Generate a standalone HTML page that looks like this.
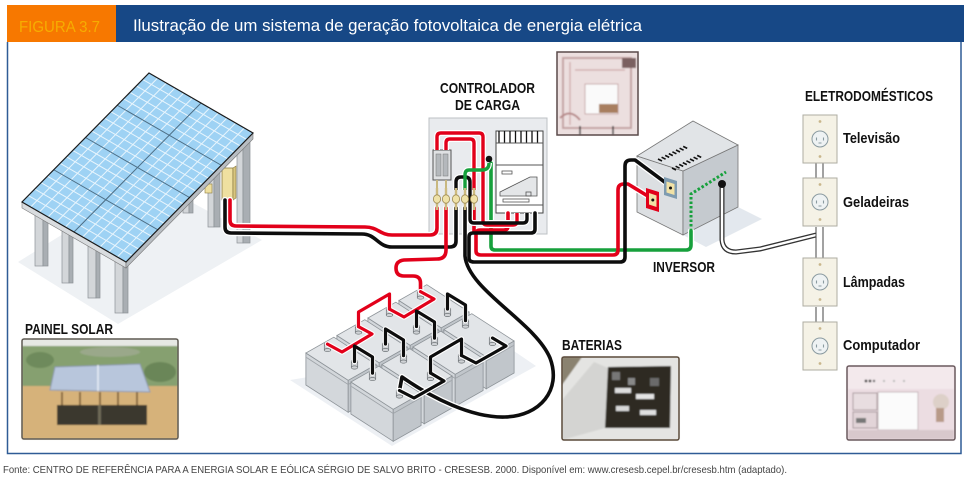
<!DOCTYPE html>
<html><head><meta charset="utf-8">
<style>html,body{margin:0;padding:0;background:#fff}svg{display:block}</style>
</head>
<body>
<svg width="968" height="485" viewBox="0 0 968 485" xmlns="http://www.w3.org/2000/svg" xmlns:xlink="http://www.w3.org/1999/xlink" font-family="'Liberation Sans', Arial, sans-serif">
<defs>
  <filter id="bl" x="-5%" y="-5%" width="110%" height="110%"><feGaussianBlur stdDeviation="0.7"/></filter>
  <g id="term">
    <rect x="-3.2" y="-6" width="6.4" height="6" fill="#cfd2d5" stroke="#6f7478" stroke-width="0.7"/>
    <ellipse cx="0" cy="0" rx="3.2" ry="1.6" fill="#cfd2d5" stroke="#6f7478" stroke-width="0.7"/>
    <ellipse cx="0" cy="-6" rx="3.2" ry="1.7" fill="#f4f4f4" stroke="#6f7478" stroke-width="0.7"/>
    <circle cx="0" cy="-6" r="0.9" fill="#c8a24a"/>
  </g>
  <g id="bat">
    <polygon points="398.9,300.5 441.2,327.8 441.2,359.8 398.9,332.5" fill="#d3d7db" stroke="#8d9398" stroke-width="0.8"/>
    <polygon points="469.1,312 441.2,327.8 441.2,359.8 469.1,344" fill="#c1c6cb" stroke="#8d9398" stroke-width="0.8"/>
    <polyline points="399.5,305 441.2,332" fill="none" stroke="#9ea3a8" stroke-width="0.8"/>
    <polyline points="441.2,332 468.5,316.5" fill="none" stroke="#9ea3a8" stroke-width="0.8"/>
    <polygon points="426.8,284.7 469.1,312 441.2,327.8 398.9,300.5" fill="#e2e5e8" stroke="#8d9398" stroke-width="0.8"/>
    <use xlink:href="#term" x="420.5" y="297.6"/>
    <use xlink:href="#term" x="447.5" y="315"/>
  </g>
  <g id="outlet">
    <rect x="0" y="0" width="34" height="48" fill="#f5f2e6" stroke="#aeaca2" stroke-width="1"/>
    <circle cx="17" cy="24" r="8" fill="#eef2f3" stroke="#8a9aa0" stroke-width="1"/>
    <path d="M13.5,22.5v3 M20.5,22.5v3 M15.5,28h3" stroke="#8a9aa0" stroke-width="1.1"/>
    <circle cx="17" cy="6.5" r="1.4" fill="#c9b68c"/>
    <circle cx="17" cy="41.5" r="1.4" fill="#c9b68c"/>
  </g>
</defs>
<rect width="968" height="485" fill="#fff"/>

<!-- header -->
<rect x="7" y="5" width="109" height="37" fill="#f77800"/>
<rect x="116" y="5" width="848" height="37" fill="#174886"/>
<text x="19" y="32" font-size="16" fill="#f6ad00" textLength="81" lengthAdjust="spacingAndGlyphs">FIGURA 3.7</text>
<text x="133" y="31" font-size="17" fill="#ffffff" textLength="509" lengthAdjust="spacingAndGlyphs">Ilustração de um sistema de geração fotovoltaica de energia elétrica</text>
<path d="M7.5,42V453.5H961V42" fill="none" stroke="#2f5c96" stroke-width="1.5"/>
<text x="3" y="473" font-size="10.5" fill="#444" textLength="784" lengthAdjust="spacingAndGlyphs">Fonte: CENTRO DE REFERÊNCIA PARA A ENERGIA SOLAR E EÓLICA SÉRGIO DE SALVO BRITO - CRESESB. 2000. Disponível em: www.cresesb.cepel.br/cresesb.htm (adaptado).</text>

<!-- solar panel structure -->
<polygon points="18,262 118,324 262,240 150,180" fill="#eef1f4"/>
<g stroke="#8c9196" stroke-width="0.7">
  <rect x="183" y="195" width="6" height="18" fill="#d3d6d9"/><rect x="189" y="195" width="4" height="18" fill="#a9aeb3"/>
  <rect x="208" y="165" width="6" height="62" fill="#d3d6d9"/><rect x="214" y="165" width="6" height="62" fill="#a9aeb3"/>
  <rect x="237" y="138" width="6" height="105" fill="#d3d6d9"/><rect x="243" y="138" width="7" height="105" fill="#a9aeb3"/>
  <rect x="35" y="205" width="8" height="61" fill="#d3d6d9"/><rect x="43" y="205" width="5" height="61" fill="#a9aeb3"/>
  <rect x="62" y="220" width="7" height="63" fill="#d3d6d9"/><rect x="69" y="220" width="4" height="63" fill="#a9aeb3"/>
  <rect x="88" y="235" width="8" height="63" fill="#d3d6d9"/><rect x="96" y="235" width="4" height="63" fill="#a9aeb3"/>
  <rect x="115" y="250" width="8" height="63" fill="#d3d6d9"/><rect x="123" y="250" width="5" height="63" fill="#a9aeb3"/>
</g>
<rect x="205" y="184" width="7" height="9" fill="#efe0a0" stroke="#8a7a40" stroke-width="0.6"/>
<rect x="222" y="168" width="11" height="32" fill="#efe0a0" stroke="#8a7a40" stroke-width="0.8"/>
<polygon points="233,168 236,166 236,198 233,200" fill="#d8c57e" stroke="#8a7a40" stroke-width="0.6"/>
<!-- panel edge -->
<polygon points="22,202 126,262 126,268 22,208" fill="#d9dcdf" stroke="#777" stroke-width="0.6"/>
<polygon points="126,262 253,133 253,139 126,268" fill="#b8bdc2" stroke="#777" stroke-width="0.6"/>
<!-- panel surface -->
<g transform="matrix(8.6667,5,-6.35,6.45,149,73)">
  <rect x="0" y="0" width="12" height="20" fill="#9ed2f4"/>
  <path vector-effect="non-scaling-stroke" stroke="#e8f5fd" stroke-width="1" fill="none" d="M1,0V20M2,0V20M3,0V20M4,0V20M5,0V20M7,0V20M8,0V20M9,0V20M10,0V20M11,0V20M0,1H12M0,2H12M0,3H12M0,4H12M0,6H12M0,7H12M0,8H12M0,9H12M0,11H12M0,12H12M0,13H12M0,14H12M0,16H12M0,17H12M0,18H12M0,19H12"/>
  <path vector-effect="non-scaling-stroke" stroke="#4d6e85" stroke-width="1" fill="none" d="M6,0V20M0,5H12M0,10H12M0,15H12"/>
  <rect x="0" y="0" width="12" height="20" fill="none" stroke="#1a1a1a" stroke-width="1.2" vector-effect="non-scaling-stroke"/>
</g>

<!-- shadows -->
<polygon points="290,380 392,446 536,366 505,345" fill="#edf0f4"/>
<polygon points="683,235 738,207 762,219 706,247" fill="#e3e8ee"/>

<!-- controller box -->
<rect x="429" y="118" width="118" height="116" fill="#e9ebee" stroke="#bdc0c4" stroke-width="1"/>
<rect x="496" y="131" width="47" height="82" fill="#fff" stroke="#444" stroke-width="1"/>
<path d="M499,131V143M504.5,131V143M510,131V143M515.5,131V143M521,131V143M526.5,131V143M532,131V143M537.5,131V143" stroke="#111" stroke-width="1.3"/>
<path d="M496,143H543M496,165H543M496,205H543" stroke="#555" stroke-width="0.9"/>
<rect x="502" y="171" width="10" height="3" fill="none" stroke="#555" stroke-width="0.8"/>
<path d="M500,192 L512,186 L530,177 L537,177 L537,196 L500,196 Z" fill="#e4e6e8" stroke="#555" stroke-width="0.8"/>
<rect x="503" y="199" width="26" height="3" fill="none" stroke="#555" stroke-width="0.8"/>
<rect x="526" y="192" width="5" height="4" fill="none" stroke="#555" stroke-width="0.8"/>
<rect x="433" y="150" width="18" height="30" fill="#dfe1e3" stroke="#555" stroke-width="1"/>
<rect x="436" y="154" width="5" height="22" fill="#b4b8bc" stroke="#777" stroke-width="0.5"/>
<rect x="443" y="154" width="5" height="22" fill="#b4b8bc" stroke="#777" stroke-width="0.5"/>
<path d="M437,180V190M446,180V190" stroke="#c8b880" stroke-width="2"/>

<!-- inverter -->
<polygon points="637,156 683,171 683,235 637,212" fill="#dcdfe2" stroke="#777" stroke-width="0.8"/>
<polygon points="683,171 738,145 738,207 683,235" fill="#c5cacf" stroke="#777" stroke-width="0.8"/>
<polygon points="637,156 693,121 738,145 683,171" fill="#e1e4e7" stroke="#777" stroke-width="0.8"/>
<g stroke="#111" stroke-width="1.6">
  <path d="M658,159l4,2M661.6,157.2l4,2M665.2,155.4l4,2M668.8,153.6l4,2M672.4,151.8l4,2M676,150l4,2M679.6,148.2l4,2M683.2,146.4l4,2"/>
  <path d="M672,168l4,2M675.6,166.2l4,2M679.2,164.4l4,2M682.8,162.6l4,2M686.4,160.8l4,2M690,159l4,2M693.6,157.2l4,2M697.2,155.4l4,2"/>
</g>

<!-- batteries -->
<use xlink:href="#bat"/>
<use xlink:href="#bat" x="-31" y="17.5"/>
<use xlink:href="#bat" x="45" y="29"/>
<use xlink:href="#bat" x="-62" y="35"/>
<use xlink:href="#bat" x="14" y="46.5"/>
<use xlink:href="#bat" x="-93" y="52.5"/>
<use xlink:href="#bat" x="-17" y="64"/>
<use xlink:href="#bat" x="-48" y="81.5"/>

<!-- main cables: white outlines -->
<g fill="none" stroke="#fff" stroke-width="6.2" stroke-linejoin="round" stroke-linecap="round">
  <path d="M230,200V220Q230,226 236,226L365,227C378,227 380,235 392,235L430,235Q437,235 437,228V208"/>
  <path d="M225,200V227Q225,233 231,233L362,234C376,234 378,247 392,247L450,247Q456,247 456,241V208"/>
  <path d="M446,208V250Q446,259 437,259L404,260Q396,261 396,268Q396,276 404,276L413,276Q420.5,276 420.5,283V291"/>
  <path d="M491,163V246Q491,250 495,250H686Q691,250 691,245V231"/>
  <path d="M508,213V226Q508,230 504,230H480Q476,230 476,234V251Q476,255 481,255H613Q618,255 618,250V190Q618,184 624,184H628L651,198"/>
  <path d="M535,213V229Q535,233 531,233H473Q469,233 469,237V258Q469,262 474,262H620Q625,262 625,257V166Q625,160 631,160H635L670,186"/>
  <path d="M465,208V256C468,290 535,322 550,358C562,390 540,416 505,417C472,418 432,398 402,377L399.5,390.5"/>
</g>
<!-- colored cables -->
<g fill="none" stroke-width="3.6" stroke-linejoin="round" stroke-linecap="round">
  <path stroke="#e2001a" d="M230,200V220Q230,226 236,226L365,227C378,227 380,235 392,235L430,235Q437,235 437,228V208"/>
  <path stroke="#0d0d0d" d="M225,200V227Q225,233 231,233L362,234C376,234 378,247 392,247L450,247Q456,247 456,241V208"/>
  <path stroke="#e2001a" d="M446,208V250Q446,259 437,259L404,260Q396,261 396,268Q396,276 404,276L413,276Q420.5,276 420.5,283V291"/>
  <path stroke="#17a03c" d="M491,163V246Q491,250 495,250H686Q691,250 691,245V231"/>
  <path stroke="#e2001a" d="M508,213V226Q508,230 504,230H480Q476,230 476,234V251Q476,255 481,255H613Q618,255 618,250V190Q618,184 624,184H628L651,198"/>
  <path stroke="#e2001a" d="M474,208V232"/>
  <path stroke="#0d0d0d" d="M535,213V229Q535,233 531,233H473Q469,233 469,237V258Q469,262 474,262H620Q625,262 625,257V166Q625,160 631,160H635L670,186"/>
  <path stroke="#0d0d0d" d="M465,208V256C468,290 535,322 550,358C562,390 540,416 505,417C472,418 432,398 402,377L399.5,390.5"/>
</g>
<!-- controller internal loops -->
<g fill="none" stroke="#fff" stroke-width="6" stroke-linejoin="round">
  <path d="M437,150V137Q437,133 441,133H479Q483,133 483,137V221Q483,225 487,225H513Q517,225 517,221V213"/>
  <path d="M446,150V143Q446,139 450,139H470Q474,139 474,143V190"/>
  <path d="M456,190V182Q456,177 461,177H465Q470,177 470,182V219Q470,223 474,223H523Q527,223 527,219V213"/>
  <path d="M489,163Q489,170 482,170H469Q465,170 465,175V190"/>
</g>
<g fill="none" stroke-width="3.4" stroke-linejoin="round">
  <path stroke="#e2001a" d="M437,150V137Q437,133 441,133H479Q483,133 483,137V221Q483,225 487,225H513Q517,225 517,221V213"/>
  <path stroke="#e2001a" d="M446,150V143Q446,139 450,139H470Q474,139 474,143V190"/>
  <path stroke="#0d0d0d" d="M456,190V182Q456,177 461,177H465Q470,177 470,182V219Q470,223 474,223H523Q527,223 527,219V213"/>
  <path stroke="#17a03c" d="M489,163Q489,170 482,170H469Q465,170 465,175V190"/>
</g>
<circle cx="489" cy="159" r="3.3" fill="#111"/>
<!-- fuses -->
<g>
  <path d="M437,188V210M446,188V210M456,188V210M465,188V210M474,188V210" stroke="#cdbb80" stroke-width="2.4"/>
  <g fill="#efe2a8" stroke="#9c8850" stroke-width="0.8">
    <ellipse cx="437" cy="199" rx="3.6" ry="4.2"/><ellipse cx="446" cy="199" rx="3.6" ry="4.2"/><ellipse cx="456" cy="199" rx="3.6" ry="4.2"/><ellipse cx="465" cy="199" rx="3.6" ry="4.2"/><ellipse cx="474" cy="199" rx="3.6" ry="4.2"/>
  </g>
</g>

<!-- inverter terminals, green dotted, cord -->
<polygon points="646,188 659,192 659,212 646,208" fill="#e2001a"/>
<polygon points="649,193 656.5,195.5 656.5,207 649,204.5" fill="#f1e2a6"/>
<circle cx="652.8" cy="200" r="1.5" fill="#111"/>
<polygon points="664,177 677,181 677,199 664,195" fill="#7e9bb0"/>
<polygon points="666.5,181.5 674.5,184 674.5,195 666.5,192.5" fill="#f1e2a6"/>
<circle cx="670.5" cy="188" r="1.5" fill="#111"/>
<path d="M691,231V194L726,172" fill="none" stroke="#17a03c" stroke-width="3" stroke-dasharray="2.5,2"/>
<path d="M722,184V240Q723,252 736,252L760,249L816,235" fill="none" stroke="#333" stroke-width="5"/>
<path d="M722,184V240Q723,252 736,252L760,249L816,235" fill="none" stroke="#fff" stroke-width="2.4"/>
<circle cx="722" cy="184" r="4" fill="#111"/>

<!-- battery wires -->
<g fill="none" stroke="#fff" stroke-width="5.4" stroke-linejoin="round" stroke-linecap="round">
  <path d="M420.5,291.6L434,299L404,317L389.5,309.1"/>
  <path d="M389.5,309.1V294L358.5,312V326.6"/>
  <path d="M358.5,326.6L372,334L342,352L327.5,344.1"/>
  <path d="M447.5,309V294L465.5,305V320.6"/>
  <path d="M416.5,326.5V311L434.5,322V338.1"/>
  <path d="M385.5,344V329L403.5,340V355.6"/>
  <path d="M354.5,361.5V346L372.5,357V373.1"/>
  <path d="M492.5,338L506,346L476,363L461.5,355.5"/>
  <path d="M430.5,373V357L461.5,339V355.5"/>
  <path d="M430.5,373L444,381L414,398L399.5,390.5"/>
</g>
<g fill="none" stroke-width="3.2" stroke-linejoin="round" stroke-linecap="round">
  <path stroke="#e2001a" d="M420.5,291.6L434,299L404,317L389.5,309.1"/>
  <path stroke="#e2001a" d="M389.5,309.1V294L358.5,312V326.6"/>
  <path stroke="#e2001a" d="M358.5,326.6L372,334L342,352L327.5,344.1"/>
  <path stroke="#0d0d0d" d="M447.5,309V294L465.5,305V320.6"/>
  <path stroke="#0d0d0d" d="M416.5,326.5V311L434.5,322V338.1"/>
  <path stroke="#0d0d0d" d="M385.5,344V329L403.5,340V355.6"/>
  <path stroke="#0d0d0d" d="M354.5,361.5V346L372.5,357V373.1"/>
  <path stroke="#0d0d0d" d="M492.5,338L506,346L476,363L461.5,355.5"/>
  <path stroke="#0d0d0d" d="M430.5,373V357L461.5,339V355.5"/>
  <path stroke="#0d0d0d" d="M430.5,373L444,381L414,398L399.5,390.5"/>
</g>

<!-- outlets -->
<path d="M816,163V178M823,163V178M816,227V258M823,227V258M816,307V322M823,307V322" stroke="#444" stroke-width="1"/>
<use xlink:href="#outlet" x="803" y="115"/>
<use xlink:href="#outlet" x="803" y="178"/>
<use xlink:href="#outlet" x="803" y="258"/>
<use xlink:href="#outlet" x="803" y="322"/>

<!-- photos -->
<!-- controller photo -->
<g filter="url(#bl)">
  <rect x="557" y="52" width="81" height="83" fill="#ecdfdf"/>
  <rect x="563" y="58" width="68" height="70" fill="none" stroke="#c4a3a3" stroke-width="2"/>
  <path d="M570,62V125M575,70H625" stroke="#d2b2b2" stroke-width="1.5"/>
  <rect x="585" y="84" width="33" height="30" fill="#fafafa" stroke="#c9aaaa" stroke-width="1"/>
  <rect x="599" y="104" width="19" height="9" fill="#a87e5e"/>
  <path d="M560,118Q570,108 580,120" fill="none" stroke="#b78a8a" stroke-width="2"/>
  <path d="M622,58H636V68H622Z" fill="#7a6060"/>
  <path d="M580,126V135M613,126V135" stroke="#333" stroke-width="1.5"/>
</g>
<rect x="557" y="52" width="81" height="83" fill="none" stroke="#5a4a4a" stroke-width="1.5"/>

<!-- solar photo -->
<g filter="url(#bl)">
  <rect x="22" y="339" width="156" height="100" fill="#d6b27a"/>
  <rect x="22" y="339" width="156" height="8" fill="#e6e8e4"/>
  <rect x="22" y="346" width="156" height="40" fill="#86a070"/>
  <ellipse cx="40" cy="360" rx="14" ry="8" fill="#6e8a5c"/>
  <ellipse cx="160" cy="372" rx="16" ry="10" fill="#6a8658"/>
  <ellipse cx="110" cy="352" rx="30" ry="5" fill="#9aa88a"/>
  <polygon points="55,367 140,364 150,392 50,390" fill="#b8c6dc" stroke="#8d9ab0" stroke-width="1"/>
  <path d="M98,365V391" stroke="#e8eef6" stroke-width="1.5"/>
  <path d="M62,392V407M80,392V407M100,392V407M118,392V407M137,392V407" stroke="#8a6a40" stroke-width="2"/>
  <rect x="57" y="405" width="90" height="20" fill="#3a382e"/>
  <rect x="98" y="405" width="3" height="20" fill="#6e6a58"/>
</g>
<rect x="22" y="339" width="156" height="100" rx="2" fill="none" stroke="#5e5a52" stroke-width="1.5"/>

<!-- battery photo -->
<g filter="url(#bl)">
  <rect x="562" y="357" width="117" height="83" fill="#e4e4e2"/>
  <polygon points="562,357 582,357 562,385" fill="#8a8270"/>
  <polygon points="562,440 562,400 594,362 608,368 605,428" fill="#d4d4d2"/>
  <polygon points="608,367 671,366 670,428 605,428" fill="#2e2a24"/>
  <rect x="612" y="372" width="8" height="8" fill="#777"/>
  <rect x="628" y="378" width="7" height="7" fill="#888"/>
  <rect x="615" y="388" width="16" height="5" fill="#ddd"/>
  <rect x="636" y="394" width="18" height="5" fill="#e4e4e4"/>
  <rect x="616" y="406" width="13" height="5" fill="#d8d8d8"/>
  <rect x="640" y="410" width="16" height="5" fill="#e0e0e0"/>
  <rect x="650" y="378" width="9" height="8" fill="#6a6a6a"/>
</g>
<rect x="562" y="357" width="117" height="83" rx="2" fill="none" stroke="#5a4a3a" stroke-width="1.5"/>

<!-- computer photo -->
<g filter="url(#bl)">
  <rect x="847" y="366" width="108" height="74" fill="#ecdde2"/>
  <rect x="848" y="367" width="106" height="22" fill="#f3e9ec"/>
  <circle cx="866" cy="381" r="1.4" fill="#333"/><circle cx="870" cy="381" r="1.4" fill="#333"/><circle cx="874" cy="381" r="1.2" fill="#555"/>
  <circle cx="884" cy="381" r="1" fill="#aaa"/><circle cx="894" cy="381" r="1" fill="#aaa"/><circle cx="904" cy="381" r="1" fill="#aaa"/>
  <rect x="853" y="393" width="24" height="17" fill="#e8dde0" stroke="#a89a9e" stroke-width="1"/>
  <rect x="853" y="412" width="24" height="16" fill="#e2d4d8" stroke="#a89a9e" stroke-width="1"/>
  <rect x="856" y="418" width="10" height="5" fill="#777"/>
  <rect x="878" y="392" width="40" height="38" fill="#fbfbfb" stroke="#c8b8bc" stroke-width="1"/>
  <circle cx="941" cy="402" r="8" fill="#ddd0c8"/>
  <rect x="936" y="408" width="8" height="14" fill="#b89a88"/>
  <rect x="848" y="430" width="106" height="9" fill="#d8c8cc"/>
</g>
<rect x="847" y="366" width="108" height="74" rx="2" fill="none" stroke="#6a5a5e" stroke-width="1.5"/>

<!-- labels -->
<g font-weight="bold" font-size="15" fill="#111">
  <text x="440" y="93" textLength="95" lengthAdjust="spacingAndGlyphs">CONTROLADOR</text>
  <text x="455" y="110" textLength="65" lengthAdjust="spacingAndGlyphs">DE CARGA</text>
  <text x="653" y="272" textLength="62" lengthAdjust="spacingAndGlyphs">INVERSOR</text>
  <text x="805" y="101" textLength="128" lengthAdjust="spacingAndGlyphs">ELETRODOMÉSTICOS</text>
  <text x="843" y="143" textLength="57" lengthAdjust="spacingAndGlyphs">Televisão</text>
  <text x="843" y="207" textLength="66" lengthAdjust="spacingAndGlyphs">Geladeiras</text>
  <text x="843" y="287" textLength="62" lengthAdjust="spacingAndGlyphs">Lâmpadas</text>
  <text x="843" y="350" textLength="77" lengthAdjust="spacingAndGlyphs">Computador</text>
  <text x="562" y="350" textLength="60" lengthAdjust="spacingAndGlyphs">BATERIAS</text>
  <text x="25" y="334" textLength="88" lengthAdjust="spacingAndGlyphs">PAINEL SOLAR</text>
</g>
</svg>
</body>
</html>
